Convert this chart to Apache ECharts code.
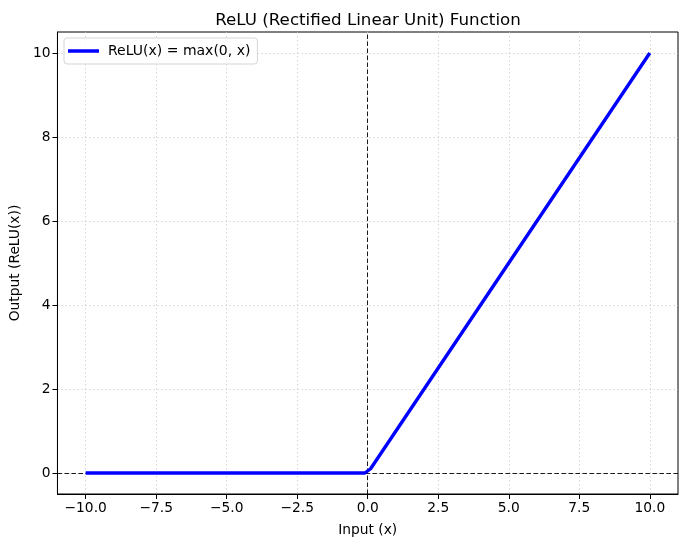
<!DOCTYPE html>
<html><head><meta charset="utf-8">
<script src="https://cdn.jsdelivr.net/npm/echarts@6/dist/echarts.min.js"></script>
<style>html,body{margin:0;padding:0;background:#fff}#c{width:686px;height:547px}</style>
</head><body><div id="c"></div>
<script>
const xValues = [-10, -0.101, 0.101, 10];
const yValues = [0, 0, 0.101, 10];
const xTicks = [-10, -7.5, -5, -2.5, 0, 2.5, 5, 7.5, 10];
const yTicks = [0, 2, 4, 6, 8, 10];
const seriesName = 'ReLU(x) = max(0, x)';

const font = 'DejaVu Sans';
const chart = echarts.init(document.getElementById('c'), null, {renderer: 'canvas'});
const gridLine = {show: true, lineStyle: {color: '#cacaca', type: [1.5, 2.5], width: 0.8}};
chart.setOption({
  animation: false,
  backgroundColor: '#fff',
  title: {text: 'ReLU (Rectified Linear Unit) Function', left: 363, top: 7, textAlign: 'center',
    textStyle: {fontFamily: font, fontSize: 16.7, fontWeight: 'normal', color: '#000'}},
  grid: {left: 57, right: 8, top: 32, bottom: 53, show: true, borderColor: '#000', borderWidth: 1, backgroundColor: 'transparent'},
  legend: {left: 64, top: 38, orient: 'vertical', data: [{name: seriesName, icon: 'rect'}],
    itemWidth: 31, itemHeight: 3.5, itemGap: 8,
    padding: [6, 7, 6, 4], borderColor: '#d5d5d5', borderWidth: 1, borderRadius: 3, backgroundColor: 'rgba(255,255,255,0.8)',
    textStyle: {fontFamily: font, fontSize: 14, color: '#000', padding: [0, 0, 0, 4]}},
  xAxis: {type: 'value', min: -11, max: 11, name: 'Input (x)', nameLocation: 'middle', nameGap: 29,
    nameTextStyle: {fontFamily: font, fontSize: 13.8, color: '#000'},
    axisLine: {show: true, onZero: false, lineStyle: {color: '#000', width: 1}},
    axisTick: {show: true, length: 5, inside: false, customValues: xTicks, lineStyle: {color: '#000'}},
    axisLabel: {customValues: xTicks, fontFamily: font, fontSize: 13.8, color: '#000', margin: 7,
      formatter: v => (v < 0 ? '\u2212' : '') + Math.abs(v).toFixed(1)},
    splitLine: gridLine},
  yAxis: {type: 'value', min: -0.5, max: 10.5, name: 'Output (ReLU(x))', nameLocation: 'middle', nameGap: 33,
    nameTextStyle: {fontFamily: font, fontSize: 13.8, color: '#000'},
    axisLine: {show: true, onZero: false, lineStyle: {color: '#000', width: 1}},
    axisTick: {show: true, length: 5, inside: false, customValues: yTicks, lineStyle: {color: '#000'}},
    axisLabel: {customValues: yTicks, fontFamily: font, fontSize: 13.8, color: '#000', margin: 7},
    splitLine: gridLine},
  series: [{
    name: seriesName, type: 'line', showSymbol: false, symbol: 'none',
    data: xValues.map((x, i) => [x, yValues[i]]),
    lineStyle: {color: '#0000ff', width: 3.4, cap: 'butt', join: 'round'},
    itemStyle: {color: '#0000ff'},
    z: 3,
    markLine: {silent: true, symbol: 'none', label: {show: false}, z: 2,
      lineStyle: {color: '#000', type: [4.5, 2.5], width: 0.9},
      data: [{xAxis: 0}, {yAxis: 0}]}
  }]
});
</script></body></html>
